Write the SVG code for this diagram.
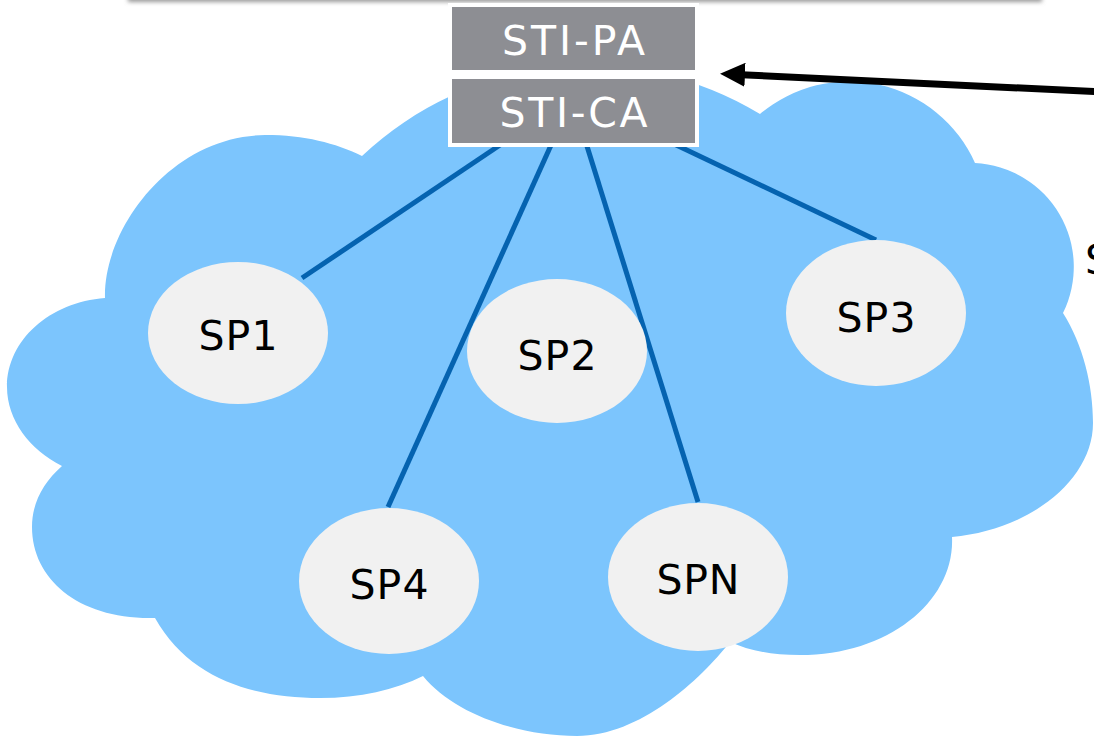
<svg xmlns="http://www.w3.org/2000/svg" width="1094" height="737" viewBox="0 0 1094 737">
  <defs>
    <style>
      .cloud { fill: #7cc5fd; }
      .node ellipse { fill: #f1f1f1; }
      .lbl { font-family: "DejaVu Sans", Verdana, sans-serif; font-size: 41px; fill: #000; text-anchor: middle; }
      .box rect { fill: #8d8e93; stroke: #ffffff; stroke-width: 4; }
      .box text { font-family: "DejaVu Sans", Verdana, sans-serif; font-size: 41px; fill: #ffffff; text-anchor: middle; }
      .link { stroke: #0563b0; stroke-width: 5; fill: none; }
      .arrow { stroke: #000; stroke-width: 7; fill: none; }
    </style>
    <marker id="head" markerUnits="userSpaceOnUse" viewBox="0 0 25 24" markerWidth="25" markerHeight="24" refX="9" refY="12" orient="auto">
      <path d="M0,0 L25,12 L0,24 z" fill="#000"/>
    </marker>
    <filter id="blur" x="-5%" y="-100%" width="110%" height="300%">
      <feGaussianBlur stdDeviation="2"/>
    </filter>
  </defs>

  <rect x="128" y="-14" width="914" height="16" fill="#9a9a9a" filter="url(#blur)"/>
  <rect x="128" y="-20" width="914" height="20" fill="#ffffff"/>

  <path id="cloud" class="cloud" d="M105,298 C103,230 170,136 265,135 C305,135 335,143 362,156 A330 330 0 0 1 760,114 A138 138 0 0 1 975,163 A104 104 0 0 1 1063,313 C1083,345 1093,385 1093,423 C1093,480 1030,530 952,537 C955,600 890,655 800,655 C770,655 748,650 730,642 C700,680 640,736 577,736 C520,736 455,715 423,676 C395,690 360,698 320,698 C255,698 190,680 155,618 C80,620 32,580 32,527 C32,502 44,482 62,466 C30,450 7,420 7,387 C7,340 50,302 105,298 Z"/>

  <g id="connectors">
    <line class="link" x1="503" y1="143" x2="302" y2="278"/>
    <line class="link" x1="552" y1="143" x2="388" y2="507"/>
    <line class="link" x1="586" y1="143" x2="698" y2="502"/>
    <line class="link" x1="672" y1="143" x2="876" y2="240"/>
    <line class="arrow" x1="1100" y1="91.8" x2="736" y2="74.4" marker-end="url(#head)"/>
  </g>

  <g id="sp1" class="node">
    <ellipse cx="238" cy="333" rx="90" ry="71"/>
    <text class="lbl" x="238" y="350" textLength="79">SP1</text>
  </g>
  <g id="sp2" class="node">
    <ellipse cx="557" cy="351" rx="90" ry="72"/>
    <text class="lbl" x="557" y="370" textLength="79">SP2</text>
  </g>
  <g id="sp3" class="node">
    <ellipse cx="876" cy="313" rx="90" ry="73"/>
    <text class="lbl" x="876" y="332" textLength="79">SP3</text>
  </g>
  <g id="sp4" class="node">
    <ellipse cx="389" cy="581" rx="90" ry="73"/>
    <text class="lbl" x="389" y="599" textLength="79">SP4</text>
  </g>
  <g id="spn" class="node">
    <ellipse cx="698" cy="577" rx="90" ry="74"/>
    <text class="lbl" x="698" y="594" textLength="83">SPN</text>
  </g>

  <rect x="448" y="3" width="251" height="144" fill="#ffffff"/>
  <g id="sti-pa" class="box">
    <rect x="450" y="5" width="247" height="67"/>
    <text x="573.5" y="55" textLength="143">STI-PA</text>
  </g>
  <g id="sti-ca" class="box">
    <rect x="450" y="77" width="247" height="68"/>
    <text x="573.5" y="127" textLength="148">STI-CA</text>
  </g>

  <text id="side-label" class="lbl" x="1085" y="274" style="text-anchor:start" font-size="44">S</text>
</svg>
